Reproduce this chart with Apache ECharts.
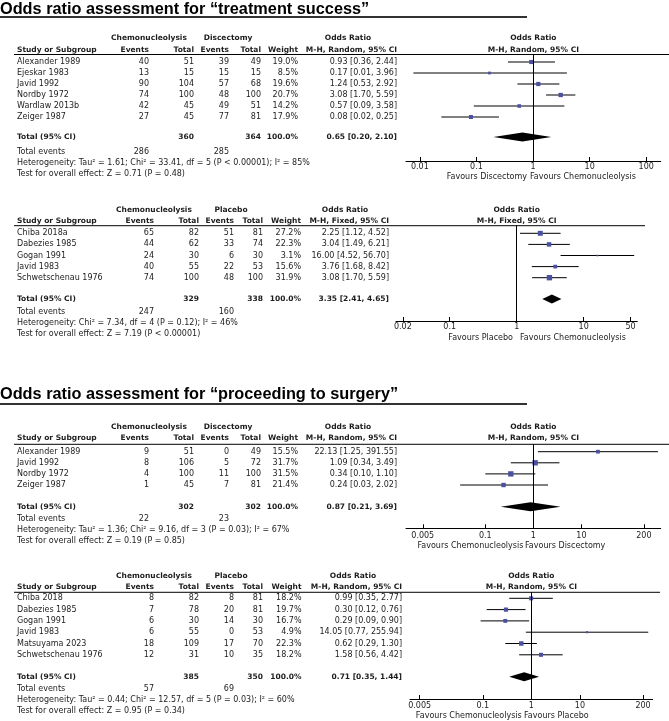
<!DOCTYPE html>
<html><head><meta charset="utf-8">
<script src="https://cdn.jsdelivr.net/npm/echarts/dist/echarts.min.js"></script>
<style>html,body{margin:0;padding:0;background:#fff}#c{width:669px;height:721px}</style>
</head><body><div id="c"></div>
<script>
// ---------- Panel 1: treatment success, Chemonucleolysis vs Discectomy ----------
const p1Studies = ['Alexander 1989','Ejeskar 1983','Javid 1992','Nordby 1972','Wardlaw 2013b','Zeiger 1987'];
const p1ChemoEvents = [40,13,90,74,42,27];
const p1ChemoTotal = [51,15,104,100,45,45];
const p1CtrlEvents = [39,15,57,48,49,77];
const p1CtrlTotal = [49,15,68,100,51,81];
const p1Weight = [19.0,8.5,19.6,20.7,14.2,17.9];
const p1OR = [0.93,0.17,1.24,3.08,0.57,0.08];
const p1Lo = [0.36,0.0077,0.53,1.70,0.09,0.024];
const p1Hi = [2.44,3.96,2.92,5.59,3.58,0.25];
const p1Pooled = [0.65,0.20,2.10];
const p1Totals = [360,364];
const p1TotalEvents = [286,285];
const p1Het = 'Heterogeneity: Tau² = 1.61; Chi² = 33.41, df = 5 (P < 0.00001); I² = 85%';
const p1Test = 'Test for overall effect: Z = 0.71 (P = 0.48)';
const p1Ticks = [0.01,0.1,1,10,100];

// ---------- Panel 2: treatment success, Chemonucleolysis vs Placebo ----------
const p2Studies = ['Chiba 2018a','Dabezies 1985','Gogan 1991','Javid 1983','Schwetschenau 1976'];
const p2ChemoEvents = [65,44,24,40,74];
const p2ChemoTotal = [82,62,30,55,100];
const p2CtrlEvents = [51,33,6,22,48];
const p2CtrlTotal = [81,74,30,53,100];
const p2Weight = [27.2,22.3,3.1,15.6,31.9];
const p2OR = [2.25,3.04,16.00,3.76,3.08];
const p2Lo = [1.12,1.49,4.52,1.68,1.70];
const p2Hi = [4.52,6.21,56.70,8.42,5.59];
const p2Pooled = [3.35,2.41,4.65];
const p2Totals = [329,338];
const p2TotalEvents = [247,160];
const p2Het = 'Heterogeneity: Chi² = 7.34, df = 4 (P = 0.12); I² = 46%';
const p2Test = 'Test for overall effect: Z = 7.19 (P < 0.00001)';
const p2Ticks = [0.02,0.1,1,10,50];

// ---------- Panel 3: proceeding to surgery, Chemonucleolysis vs Discectomy ----------
const p3Studies = ['Alexander 1989','Javid 1992','Nordby 1972','Zeiger 1987'];
const p3ChemoEvents = [9,8,4,1];
const p3ChemoTotal = [51,106,100,45];
const p3CtrlEvents = [0,5,11,7];
const p3CtrlTotal = [49,72,100,81];
const p3Weight = [15.5,31.7,31.5,21.4];
const p3OR = [22.13,1.09,0.34,0.24];
const p3Lo = [1.25,0.34,0.10,0.03];
const p3Hi = [391.55,3.49,1.10,2.02];
const p3Pooled = [0.87,0.21,3.69];
const p3Totals = [302,302];
const p3TotalEvents = [22,23];
const p3Het = 'Heterogeneity: Tau² = 1.36; Chi² = 9.16, df = 3 (P = 0.03); I² = 67%';
const p3Test = 'Test for overall effect: Z = 0.19 (P = 0.85)';
const p3Ticks = [0.005,0.1,1,10,200];

// ---------- Panel 4: proceeding to surgery, Chemonucleolysis vs Placebo ----------
const p4Studies = ['Chiba 2018','Dabezies 1985','Gogan 1991','Javid 1983','Matsuyama 2023','Schwetschenau 1976'];
const p4ChemoEvents = [8,7,6,6,18,12];
const p4ChemoTotal = [82,78,30,55,109,31];
const p4CtrlEvents = [8,20,14,0,17,10];
const p4CtrlTotal = [81,81,30,53,70,35];
const p4Weight = [18.2,19.7,16.7,4.9,22.3,18.2];
const p4OR = [0.99,0.30,0.29,14.05,0.62,1.58];
const p4Lo = [0.35,0.12,0.09,0.77,0.29,0.56];
const p4Hi = [2.77,0.76,0.90,255.94,1.30,4.42];
const p4Pooled = [0.71,0.35,1.44];
const p4Totals = [385,350];
const p4TotalEvents = [57,69];
const p4Het = 'Heterogeneity: Tau² = 0.44; Chi² = 12.57, df = 5 (P = 0.03); I² = 60%';
const p4Test = 'Test for overall effect: Z = 0.95 (P = 0.34)';
const p4Ticks = [0.005,0.1,1,10,200];

const panels = [
  {title:'Odds ratio assessment for “treatment success”', ctrl:'Discectomy', method:'M-H, Random, 95% CI',
   favLeft:'Favours Discectomy', favRight:'Favours Chemonucleolysis',
   studies:p1Studies, ev1:p1ChemoEvents, tot1:p1ChemoTotal, ev2:p1CtrlEvents, tot2:p1CtrlTotal, w:p1Weight,
   or:p1OR, lo:p1Lo, hi:p1Hi, pooled:p1Pooled, totals:p1Totals, tev:p1TotalEvents, het:p1Het, test:p1Test, ticks:p1Ticks},
  {title:null, ctrl:'Placebo', method:'M-H, Fixed, 95% CI',
   favLeft:'Favours Placebo', favRight:'Favours Chemonucleolysis',
   studies:p2Studies, ev1:p2ChemoEvents, tot1:p2ChemoTotal, ev2:p2CtrlEvents, tot2:p2CtrlTotal, w:p2Weight,
   or:p2OR, lo:p2Lo, hi:p2Hi, pooled:p2Pooled, totals:p2Totals, tev:p2TotalEvents, het:p2Het, test:p2Test, ticks:p2Ticks},
  {title:'Odds ratio assessment for “proceeding to surgery”', ctrl:'Discectomy', method:'M-H, Random, 95% CI',
   favLeft:'Favours Chemonucleolysis', favRight:'Favours Discectomy',
   studies:p3Studies, ev1:p3ChemoEvents, tot1:p3ChemoTotal, ev2:p3CtrlEvents, tot2:p3CtrlTotal, w:p3Weight,
   or:p3OR, lo:p3Lo, hi:p3Hi, pooled:p3Pooled, totals:p3Totals, tev:p3TotalEvents, het:p3Het, test:p3Test, ticks:p3Ticks},
  {title:null, ctrl:'Placebo', method:'M-H, Random, 95% CI',
   favLeft:'Favours Chemonucleolysis', favRight:'Favours Placebo',
   studies:p4Studies, ev1:p4ChemoEvents, tot1:p4ChemoTotal, ev2:p4CtrlEvents, tot2:p4CtrlTotal, w:p4Weight,
   or:p4OR, lo:p4Lo, hi:p4Hi, pooled:p4Pooled, totals:p4Totals, tev:p4TotalEvents, het:p4Het, test:p4Test, ticks:p4Ticks}
];

// ---------- layout (pixels) ----------
const colsA = {study:17, ev1:149, tot1:194, ev2:229, tot2:261, wt:298, ci:397, g1:149, g2:228, orHdr:348};
const colsB = {study:17, ev1:154, tot1:199, ev2:234, tot2:263, wt:301, ci:389, g1:154, g2:231, orHdr:345};
const colsC = {study:17, ev1:154, tot1:199, ev2:234, tot2:263, wt:301.5, ci:402, g1:154, g2:231, orHdr:353};
const layouts = [
  {titleY:9.5, ulY:17, h1:38, h2:50, lineY:54.5, lineX2:669, row0:62, step:11, totalY:137, evY:152, hetY:163, testY:174,
   axisY:161, lblY:167, favY:177, plotL:406, plotR:660.7, xmin:0.0057, xmax:180, favL:527, favR:530, cols:colsA},
  {h1:210, h2:221, lineY:225.7, lineX2:645, row0:233.3, step:11.1, totalY:299, evY:312.3, hetY:323.3, testY:334.3,
   axisY:321, lblY:327.3, favY:337.7, plotL:396, plotR:637.3, xmin:0.0158, xmax:63.1, favL:513, favR:520, cols:colsB},
  {titleY:394.5, ulY:404, h1:427.3, h2:438.3, lineY:444.3, lineX2:669, row0:451.7, step:11.1, totalY:506.7, evY:519.3, hetY:530, testY:540.7,
   axisY:528.3, lblY:536, favY:545.7, plotL:406, plotR:660.7, xmin:0.00224, xmax:447, favL:523.3, favR:525, cols:colsA},
  {h1:576, h2:587.3, lineY:592.3, lineX2:660, row0:598.3, step:11.3, totalY:676.7, evY:689.3, hetY:700, testY:710.7,
   axisY:699, lblY:705.7, favY:715.7, plotL:410, plotR:652.7, xmin:0.00316, xmax:316, favL:521.7, favR:524, cols:colsC}
];

const FONT = '"DejaVu Sans", sans-serif';
const TXT = '#1c1c1c';
const SQ = '#4b519e';
const graphics = [];
function txt(x, y, s, align, bold) {
  graphics.push({type:'text', silent:true, x:x, y:y,
    style:{text:String(s), align:align, verticalAlign:'middle',
      font:(bold ? 'bold 7.5px ' : '8px ') + FONT, fill:TXT}});
}
function hline(x1, x2, y, w, c) {
  graphics.push({type:'line', silent:true, shape:{x1:x1, y1:y, x2:x2, y2:y}, style:{stroke:c, lineWidth:w}});
}
const f2 = v => v.toFixed(2);
const ciText = (o, l, h) => f2(o) + ' [' + f2(l) + ', ' + f2(h) + ']';

const grids = [], xAxes = [], yAxes = [], series = [];

panels.forEach((p, k) => {
  const L = layouts[k], C = L.cols;
  const n = p.studies.length;
  const yMin = (L.lineY - L.row0) / L.step;
  const yMax = (L.axisY - L.row0) / L.step;
  const totIdx = (L.totalY - L.row0) / L.step;
  const plotC = (L.plotL + L.plotR) / 2;

  if (p.title) {
    graphics.push({type:'text', silent:true, x:0, y:L.titleY,
      style:{text:p.title, align:'left', verticalAlign:'middle', font:'bold 16.3px "Liberation Sans", Arial, sans-serif', fill:'#000'}});
    hline(0, 527, L.ulY, 2, '#333');
  }
  // headers
  txt(C.g1, L.h1, 'Chemonucleolysis', 'center', true);
  txt(C.g2, L.h1, p.ctrl, 'center', true);
  txt(C.orHdr, L.h1, 'Odds Ratio', 'center', true);
  txt(plotC, L.h1, 'Odds Ratio', 'center', true);
  txt(C.study, L.h2, 'Study or Subgroup', 'left', true);
  txt(C.ev1, L.h2, 'Events', 'right', true);
  txt(C.tot1, L.h2, 'Total', 'right', true);
  txt(C.ev2, L.h2, 'Events', 'right', true);
  txt(C.tot2, L.h2, 'Total', 'right', true);
  txt(C.wt, L.h2, 'Weight', 'right', true);
  txt(C.ci, L.h2, p.method, 'right', true);
  txt(plotC, L.h2, p.method, 'center', true);
  hline(14, L.lineX2, L.lineY, 1, '#000');
  // study rows
  for (let i = 0; i < n; i++) {
    const y = L.row0 + i * L.step;
    txt(C.study, y, p.studies[i], 'left');
    txt(C.ev1, y, p.ev1[i], 'right');
    txt(C.tot1, y, p.tot1[i], 'right');
    txt(C.ev2, y, p.ev2[i], 'right');
    txt(C.tot2, y, p.tot2[i], 'right');
    txt(C.wt, y, p.w[i].toFixed(1) + '%', 'right');
    txt(C.ci, y, ciText(p.or[i], p.lo[i], p.hi[i]), 'right');
  }
  // totals
  txt(C.study, L.totalY, 'Total (95% CI)', 'left', true);
  txt(C.tot1, L.totalY, p.totals[0], 'right', true);
  txt(C.tot2, L.totalY, p.totals[1], 'right', true);
  txt(C.wt, L.totalY, '100.0%', 'right', true);
  txt(C.ci, L.totalY, ciText(p.pooled[0], p.pooled[1], p.pooled[2]), 'right', true);
  txt(C.study, L.evY, 'Total events', 'left');
  txt(C.ev1, L.evY, p.tev[0], 'right');
  txt(C.ev2, L.evY, p.tev[1], 'right');
  txt(C.study, L.hetY, p.het, 'left');
  txt(C.study, L.testY, p.test, 'left');
  txt(L.favL, L.favY, p.favLeft, 'right');
  txt(L.favR, L.favY, p.favRight, 'left');

  grids.push({left:L.plotL, width:L.plotR - L.plotL, top:L.lineY, height:L.axisY - L.lineY, containLabel:false});
  xAxes.push({type:'log', logBase:10, gridIndex:k, min:L.xmin, max:L.xmax,
    axisLine:{show:true, onZero:false, lineStyle:{color:'#000', width:1}},
    axisTick:{show:true, inside:true, length:4, customValues:p.ticks, lineStyle:{color:'#000', width:1}},
    axisLabel:{show:true, customValues:p.ticks, formatter:v => String(v), fontSize:8, fontFamily:FONT, color:TXT,
      margin:L.lblY - L.axisY - 4},
    splitLine:{show:false}, minorTick:{show:false}, minorSplitLine:{show:false}});
  yAxes.push({type:'value', gridIndex:k, inverse:true, min:yMin, max:yMax, show:false,
    splitLine:{show:false}});

  const rows = p.studies.map((s, i) => [p.or[i], i, p.lo[i], p.hi[i], p.w[i]]);
  series.push({type:'custom', xAxisIndex:k, yAxisIndex:k, silent:true, z:2,
    data:rows, encode:{x:[0,2,3], y:1},
    renderItem:(params, api) => {
      const a = api.coord([api.value(2), api.value(1)]);
      const b = api.coord([api.value(3), api.value(1)]);
      return {type:'line', shape:{x1:a[0], y1:a[1], x2:b[0], y2:b[1]}, style:{stroke:'#000', lineWidth:1}};
    }});
  series.push({type:'scatter', xAxisIndex:k, yAxisIndex:k, silent:true, z:4,
    data:rows.map(r => [r[0], r[1], r[4]]), symbol:'rect',
    symbolSize:v => Math.sqrt(v[2]) * 0.95,
    itemStyle:{color:SQ, opacity:1},
    markLine:{silent:true, symbol:'none', label:{show:false}, animation:false,
      lineStyle:{color:'#000', width:1, type:'solid'}, data:[{xAxis:1}]}});
  series.push({type:'custom', xAxisIndex:k, yAxisIndex:k, silent:true, z:3,
    data:[[p.pooled[0], totIdx, p.pooled[1], p.pooled[2]]], encode:{x:[0,2,3], y:1},
    renderItem:(params, api) => {
      const y = api.value(1);
      const c = api.coord([api.value(0), y]);
      const l = api.coord([api.value(2), y]);
      const r = api.coord([api.value(3), y]);
      const h = 4.5;
      return {type:'polygon', shape:{points:[[l[0], c[1]], [c[0], c[1] - h], [r[0], c[1]], [c[0], c[1] + h]]},
        style:{fill:'#000'}};
    }});
});

const chart = echarts.init(document.getElementById('c'), null, {renderer:'canvas'});
chart.setOption({
  backgroundColor:'#fff', animation:false,
  grid:grids, xAxis:xAxes, yAxis:yAxes, series:series, graphic:graphics
});
</script></body></html>
